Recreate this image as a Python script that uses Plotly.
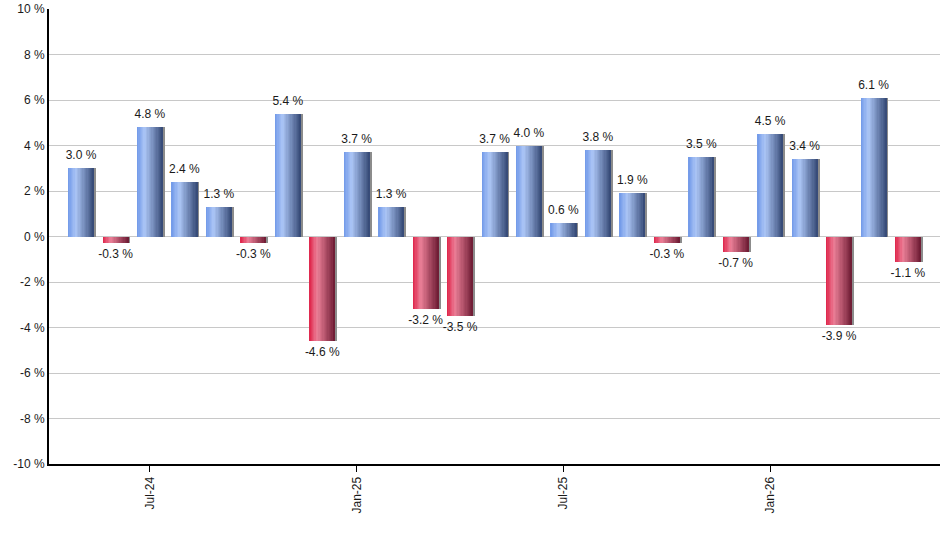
import plotly.graph_objects as go

# monthly returns, May-24 .. May-26
months = ["May-24", "Jun-24", "Jul-24", "Aug-24", "Sep-24", "Oct-24", "Nov-24",
          "Dec-24", "Jan-25", "Feb-25", "Mar-25", "Apr-25", "May-25", "Jun-25",
          "Jul-25", "Aug-25", "Sep-25", "Oct-25", "Nov-25", "Dec-25", "Jan-26",
          "Feb-26", "Mar-26", "Apr-26", "May-26"]
returns = [3.0, -0.3, 4.8, 2.4, 1.3, -0.3, 5.4, -4.6, 3.7, 1.3, -3.2, -3.5, 3.7,
           4.0, 0.6, 3.8, 1.9, -0.3, 3.5, -0.7, 4.5, 3.4, -3.9, 6.1, -1.1]
tick_months = ["Jul-24", "Jan-25", "Jul-25", "Jan-26"]
y_ticks = [-10, -8, -6, -4, -2, 0, 2, 4, 6, 8, 10]

BAR_W = 0.75
N_SLICES = 20

# horizontal gradient stops (pos, rgb) -- fakes the shaded "cylinder" bars
BLUE = [(0.0, (112, 152, 232)), (0.3, (172, 198, 246)), (1.0, (52, 72, 116))]
RED = [(0.0, (222, 34, 72)), (0.3, (236, 128, 152)), (1.0, (108, 26, 50))]


def grad(stops, t):
    for (p0, c0), (p1, c1) in zip(stops, stops[1:]):
        if p0 <= t <= p1:
            f = (t - p0) / (p1 - p0)
            return "rgb(%d,%d,%d)" % tuple(round(a + (b - a) * f) for a, b in zip(c0, c1))
    return "rgb(%d,%d,%d)" % stops[-1][1]


fig = go.Figure()

# thin drop shadow on the right edge
fig.add_trace(go.Bar(x=months, y=returns, width=BAR_W, offset=-BAR_W / 2 + 0.06,
                     marker=dict(color="#8c8c8c", line_width=0),
                     hoverinfo="skip", showlegend=False))

# each slice runs to the bar's right edge so later ones cover the seams
sw = BAR_W / N_SLICES
for i in range(N_SLICES):
    t = (i + 0.5) / N_SLICES
    cols = [grad(BLUE if v >= 0 else RED, t) for v in returns]
    fig.add_trace(go.Bar(x=months, y=returns, width=BAR_W - i * sw,
                         offset=-BAR_W / 2 + i * sw,
                         marker=dict(color=cols, line_width=0),
                         hoverinfo="skip", showlegend=False))

labels = ["%.1f %%" % v for v in returns]
fig.add_trace(go.Scatter(
    x=months, y=returns, mode="markers+text", text=labels,
    marker=dict(size=8, opacity=0),
    textposition=["top center" if v >= 0 else "bottom center" for v in returns],
    textfont=dict(size=12, color="#1a1a1a"), showlegend=False,
    hovertemplate="%{x}: %{y:.1f} %<extra></extra>"))

fig.update_layout(
    width=940, height=550, barmode="overlay", bargap=0,
    plot_bgcolor="white", paper_bgcolor="white",
    font=dict(family="Liberation Sans, Arial, sans-serif", size=12, color="#1a1a1a"),
    margin=dict(l=49, r=0, t=9, b=86),
    xaxis=dict(type="category", range=[-0.93, len(months) - 0.07],
               tickmode="array", tickvals=tick_months, ticktext=tick_months,
               tickangle=-90, ticks="outside", ticklen=6, tickcolor="black",
               showline=True, linecolor="black", linewidth=2, showgrid=False,
               automargin=False),
    yaxis=dict(range=[-10, 10], tickmode="array", tickvals=y_ticks,
               ticktext=["%d %%" % v for v in y_ticks], showgrid=True,
               gridcolor="#c8c8c8", gridwidth=1, zeroline=False,
               showline=True, linecolor="black", linewidth=2,
               ticks="", fixedrange=True, automargin=False),
)

# drop the browser's default 8px body margin so the chart sits at the page corner
fig.write_html("out.html", config={"displayModeBar": False},
               post_script="document.body.style.margin='0';document.body.style.overflow='hidden';")
